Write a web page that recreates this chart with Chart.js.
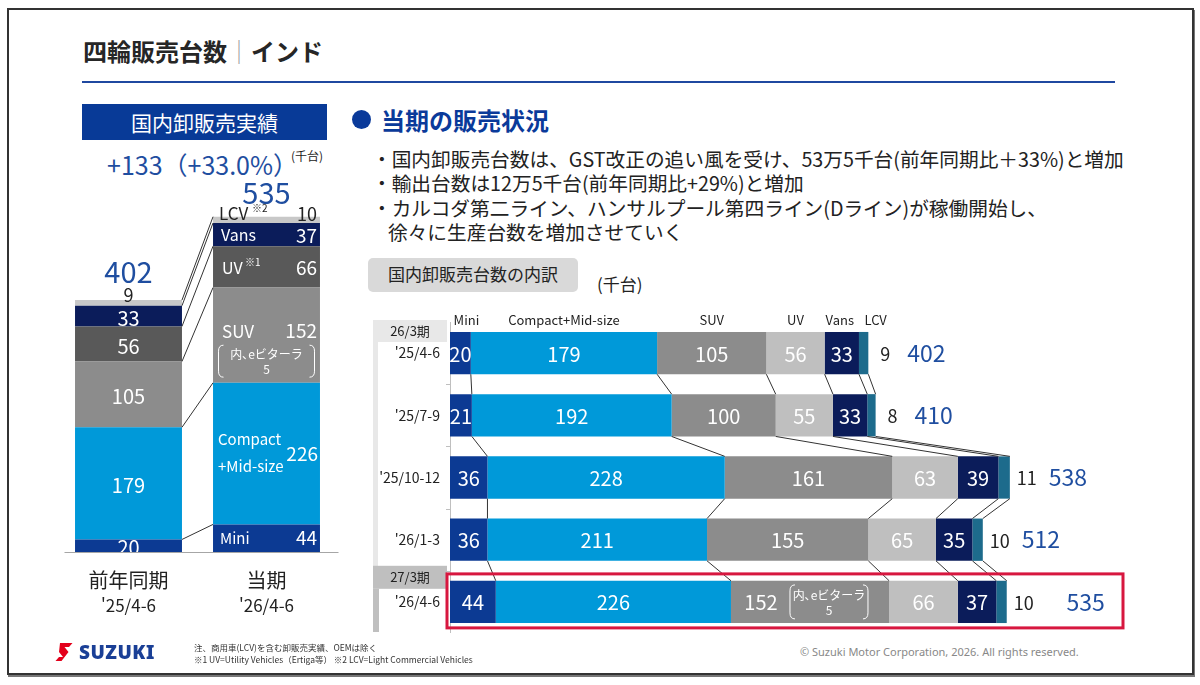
<!DOCTYPE html>
<html lang="ja">
<head>
<meta charset="utf-8">
<script src="https://cdn.jsdelivr.net/npm/chart.js@4.4.1/dist/chart.umd.min.js"></script>
<style>
  body { margin: 0; width: 1200px; height: 685px; position: relative; overflow: hidden; background: #fff;
         font-family: 'Noto Sans CJK JP', 'Noto Sans', sans-serif; color: #222; }
  .abs { position: absolute; white-space: nowrap; }
  #frame { left: 7px; top: 8px; width: 1183px; height: 663px; border: 2px solid #333; box-shadow: 1px 2px 0 #777; }
  #title { left: 83px; top: 34px; font-size: 24px; font-weight: 700; line-height: 34px; color: #262626; }
  #title span { font-weight: 300; color: #999; }
  #rule { left: 82px; top: 81px; width: 1033px; height: 2px; background: #1f48a0; }
  #leftHead { left: 82px; top: 104px; width: 245px; height: 36px; background: #083a97; color: #fff;
              font-size: 21px; line-height: 36px; text-align: center; }
  #diff { left: 107px; top: 148px; font-size: 25px; line-height: 33px; color: #1f4ea0; }
  #diffUnit { left: 291px; top: 148px; font-size: 12px; line-height: 16px; color: #222; }
  #dot { left: 352px; top: 110px; width: 19px; height: 19px; border-radius: 50%; background: #0a3a9a; }
  #subTitle { left: 381px; top: 103px; font-size: 24px; font-weight: 700; line-height: 34px; color: #0a3a9a; }
  #bullets { left: 372px; top: 147px; font-size: 19.7px; line-height: 24.4px; color: #222; }
  #pill { left: 368px; top: 258px; width: 210px; height: 34px; background: #d9d9d9; border-radius: 5px;
          font-size: 17px; line-height: 32px; text-align: center; }
  #pillUnit { left: 597px; top: 271px; font-size: 17px; line-height: 26px; }
  #logo { left: 55px; top: 643px; }
  #brand { left: 79px; top: 638px; font-family: 'Noto Sans', sans-serif; font-size: 19px; font-weight: 900;
           line-height: 28px; color: #1a3f96; letter-spacing: 0.5px; }
  #notes { left: 194px; top: 641px; font-size: 8.5px; line-height: 12px; color: #333; }
  #copy { left: 800px; top: 644px; font-family: 'Noto Sans', sans-serif; font-size: 11px; line-height: 16px; color: #888; }
  #leftBox { left: 0; top: 0; width: 360px; height: 685px; }
  #rightBox { left: 360px; top: 300px; width: 800px; height: 340px; }
</style>
</head>
<body>
<div class="abs" id="frame"></div>
<div class="abs" id="title">四輪販売台数<span>｜</span>インド</div>
<div class="abs" id="rule"></div>
<div class="abs" id="leftHead">国内卸販売実績</div>
<div class="abs" id="diff">+133（+33.0%）</div>
<div class="abs" id="diffUnit">(千台)</div>
<div class="abs" id="dot"></div>
<div class="abs" id="subTitle">当期の販売状況</div>
<div class="abs" id="bullets">・国内卸販売台数は、GST改正の追い風を受け、53万5千台(前年同期比＋33%)と増加<br>・輸出台数は12万5千台(前年同期比+29%)と増加<br>・カルコダ第二ライン、ハンサルプール第四ライン(Dライン)が稼働開始し、<br><span style="padding-left:16px">徐々に生産台数を増加させていく</span></div>
<div class="abs" id="pill">国内卸販売台数の内訳</div>
<div class="abs" id="pillUnit">(千台)</div>

<div class="abs" id="leftBox"><canvas id="leftChart"></canvas></div>
<div class="abs" id="rightBox"><canvas id="rightChart"></canvas></div>

<svg class="abs" id="logo" width="18" height="18" viewBox="0 0 18 18"><path d="M5 0H17.5L14 4H9.5L13.5 9L6.5 18H0.5L4 14H8L4 9Z" fill="#e3001b"/></svg>
<div class="abs" id="brand">SUZUKI</div>
<div class="abs" id="notes">注、商用車(LCV)を含む卸販売実績、OEMは除く<br>※1 UV=Utility Vehicles（Ertiga等） ※2 LCV=Light Commercial Vehicles</div>
<div class="abs" id="copy">© Suzuki Motor Corporation, 2026. All rights reserved.</div>

<script>
// 車種区分
const segNames = ['Mini', 'Compact+Mid-size', 'SUV', 'UV', 'Vans', 'LCV'];

// 前年同期 vs 当期
const compareLabels = [['前年同期', "'25/4-6"], ['当期', "'26/4-6"]];
const compareMini = [20, 44];
const compareCompact = [179, 226];
const compareSuv = [105, 152];
const compareUv = [56, 66];
const compareVans = [33, 37];
const compareLcv = [9, 10];
const compareTotals = [402, 535];

// 四半期の内訳
const quarters = ["'25/4-6", "'25/7-9", "'25/10-12", "'26/1-3", "'26/4-6"];
const qMini = [20, 21, 36, 36, 44];
const qCompact = [179, 192, 228, 211, 226];
const qSuv = [105, 100, 161, 155, 152];
const qUv = [56, 55, 63, 65, 66];
const qVans = [33, 33, 39, 35, 37];
const qLcv = [9, 8, 11, 10, 10];
const qTotals = [402, 410, 538, 512, 535];
const eVitara = 5;

const FONT = "'Noto Sans CJK JP', 'Noto Sans', sans-serif";
const leftColors = ['#0c3a93', '#0099d9', '#8c8c8c', '#595959', '#0b1c5a', '#c8c8c8'];
const rightColors = ['#0c3a93', '#0099d9', '#8c8c8c', '#bfbfbf', '#0b1c5a', '#1d6b8c'];

function buildSets(series, colors) {
    return series.map((s, i) => ({ label: segNames[i], data: s, backgroundColor: colors[i] }));
}

function txt(ctx, s, x, y, size, color, align) {
    ctx.font = size + 'px ' + FONT;
    ctx.fillStyle = color;
    ctx.textAlign = align || 'center';
    ctx.textBaseline = 'middle';
    ctx.fillText(s, x, y);
}

// 括弧つきの注記（内、eビターラ）
function bracketNote(ctx, cx, top, w, h) {
    ctx.strokeStyle = '#fff';
    ctx.lineWidth = 1;
    const l = cx - w / 2, r = cx + w / 2, b = top + h;
    ctx.beginPath();
    ctx.moveTo(l + 5, top); ctx.quadraticCurveTo(l, top, l, top + 6);
    ctx.lineTo(l, b - 6); ctx.quadraticCurveTo(l, b, l + 5, b);
    ctx.moveTo(r - 5, top); ctx.quadraticCurveTo(r, top, r, top + 6);
    ctx.lineTo(r, b - 6); ctx.quadraticCurveTo(r, b, r - 5, b);
    ctx.stroke();
    txt(ctx, '内､eビターラ', cx, top + h * 0.3, 12, '#fff');
    txt(ctx, String(eVitara), cx, top + h * 0.76, 12, '#fff');
}

const leftPlugin = {
    id: 'leftPlugin',
    afterDatasetsDraw(chart) {
        const { ctx, chartArea } = chart;
        const metas = chart.data.datasets.map((d, i) => chart.getDatasetMeta(i));
        ctx.save();

        // 前年→当期の連結線
        ctx.strokeStyle = '#333';
        ctx.lineWidth = 1;
        ctx.beginPath();
        metas.forEach(m => {
            const a = m.data[0], b = m.data[1];
            ctx.moveTo(a.x + a.width / 2, a.y);
            ctx.lineTo(b.x - b.width / 2, b.y);
        });
        ctx.stroke();

        ctx.save();
        ctx.beginPath();
        ctx.rect(chartArea.left - 20, chartArea.top - 60, chartArea.width + 40, chartArea.bottom - chartArea.top + 60);
        ctx.clip();

        // 前年同期
        for (let i = 0; i < 5; i++) {
            const e = metas[i].data[0];
            txt(ctx, String(chart.data.datasets[i].data[0]), e.x, (e.y + e.base) / 2 + 2, 20, '#fff');
        }
        const l0 = metas[5].data[0];
        txt(ctx, String(compareLcv[0]), l0.x, l0.y - 5, 18, '#222');
        txt(ctx, String(compareTotals[0]), l0.x, l0.y - 28, 29, '#1f4ea0');

        // 当期
        const seg = i => metas[i].data[1];
        const L = seg(0).x - seg(0).width / 2 + 7, R = seg(0).x + seg(0).width / 2 - 3;
        let e = seg(0), c = (e.y + e.base) / 2;
        txt(ctx, 'Mini', L, c, 15, '#fff', 'left');
        txt(ctx, String(compareMini[1]), R, c, 19, '#fff', 'right');
        e = seg(1); c = (e.y + e.base) / 2;
        txt(ctx, 'Compact', L - 2, c - 14, 15, '#fff', 'left');
        txt(ctx, '+Mid-size', L - 2, c + 13, 15, '#fff', 'left');
        txt(ctx, String(compareCompact[1]), R + 1, c, 19, '#fff', 'right');
        e = seg(2); c = (e.y + e.base) / 2;
        txt(ctx, 'SUV', L + 2, c - 4, 17, '#fff', 'left');
        txt(ctx, String(compareSuv[1]), R, c - 4, 19, '#fff', 'right');
        bracketNote(ctx, seg(2).x, c + 10, 96, 32);
        e = seg(3); c = (e.y + e.base) / 2;
        txt(ctx, 'UV', L + 2, c + 1, 16, '#fff', 'left');
        txt(ctx, '※1', L + 25, c - 5, 10, '#fff', 'left');
        txt(ctx, String(compareUv[1]), R, c + 1, 19, '#fff', 'right');
        e = seg(4); c = (e.y + e.base) / 2;
        txt(ctx, 'Vans', L + 1, c, 16, '#fff', 'left');
        txt(ctx, String(compareVans[1]), R, c + 1, 19, '#fff', 'right');
        e = seg(5);
        txt(ctx, 'LCV', L - 1, e.y - 3, 17, '#222', 'left');
        txt(ctx, '※2', L + 32, e.y - 9, 10, '#222', 'left');
        txt(ctx, String(compareLcv[1]), R, e.y - 3, 18, '#222', 'right');
        txt(ctx, String(compareTotals[1]), e.x, e.y - 24, 29, '#1f4ea0');
        ctx.restore();

        // 基線と区分名
        ctx.strokeStyle = '#a6a6a6';
        ctx.beginPath();
        ctx.moveTo(chartArea.left + 5, chartArea.bottom + 0.5);
        ctx.lineTo(chartArea.right + 3, chartArea.bottom + 0.5);
        ctx.stroke();
        const xs = chart.scales.x;
        compareLabels.forEach((lab, i) => {
            const px = xs.getPixelForValue(i);
            txt(ctx, lab[0], px, chartArea.bottom + 28, 20, '#222');
            txt(ctx, lab[1], px, chartArea.bottom + 54, 17, '#222');
        });
        ctx.restore();
    }
};

const rightPlugin = {
    id: 'rightPlugin',
    beforeDatasetsDraw(chart) {
        const { ctx, chartArea, scales: { y } } = chart;
        ctx.save();
        const c3 = y.getPixelForValue(3), c4 = y.getPixelForValue(4);
        const bx = chartArea.left - 77, bw = 74;
        // 期の見出し
        ctx.fillStyle = '#e8e8e8';
        ctx.fillRect(bx, chartArea.top - 2, bw, 22);
        ctx.fillRect(bx, chartArea.top + 20, 5, (c3 + c4) / 2 - chartArea.top - 20);
        txt(ctx, '26/3期', bx + bw / 2, chartArea.top + 9, 13, '#222');
        const g2 = (c3 + c4) / 2 - 5;
        ctx.fillStyle = '#bfbfbf';
        ctx.fillRect(bx, g2, bw, 23);
        ctx.fillRect(bx, g2 + 23, 6, chartArea.bottom - g2 - 24);
        txt(ctx, '27/3期', bx + bw / 2, g2 + 11, 13, '#222');
        // 軸線
        ctx.strokeStyle = '#bfbfbf';
        ctx.lineWidth = 1;
        ctx.beginPath();
        ctx.moveTo(chartArea.left + 0.5, chartArea.top);
        ctx.lineTo(chartArea.left + 0.5, chartArea.bottom);
        for (let i = 0; i < quarters.length - 1; i++) {
            const ty = Math.round((y.getPixelForValue(i) + y.getPixelForValue(i + 1)) / 2) + 0.5;
            ctx.moveTo(chartArea.left - 4, ty);
            ctx.lineTo(chartArea.left, ty);
        }
        ctx.stroke();
        quarters.forEach((q, i) => txt(ctx, q, chartArea.left - 10, y.getPixelForValue(i), 14, '#222', 'right'));
        ctx.restore();
    },
    afterDatasetsDraw(chart) {
        const { ctx, chartArea } = chart;
        const metas = chart.data.datasets.map((d, i) => chart.getDatasetMeta(i));
        const last = quarters.length - 1;
        ctx.save();

        // 行間の連結線
        ctx.strokeStyle = '#333';
        ctx.lineWidth = 1;
        ctx.beginPath();
        for (let r = 0; r < last; r++) {
            metas.forEach(m => {
                const a = m.data[r], b = m.data[r + 1];
                ctx.moveTo(a.x, a.y + a.height / 2);
                ctx.lineTo(b.x, b.y - b.height / 2);
            });
        }
        ctx.stroke();

        // 列見出し
        const hdrShift = [6, 0, 0, 0, -2, 12];
        metas.forEach((m, i) => {
            const e = m.data[0];
            txt(ctx, segNames[i], (e.x + e.base) / 2 + hdrShift[i], chartArea.top - 2, 13, '#222');
        });

        // 値ラベル
        for (let r = 0; r <= last; r++) {
            for (let i = 0; i < 5; i++) {
                const e = metas[i].data[r];
                const v = String(chart.data.datasets[i].data[r]);
                if (r === last && i === 2) {
                    txt(ctx, v, e.base + 30, e.y + 1, 20, '#fff');
                    bracketNote(ctx, e.base + 98, e.y - 17, 78, 34);
                } else {
                    txt(ctx, v, (e.x + e.base) / 2, e.y + 1, 20, '#fff');
                }
            }
            const lc = metas[5].data[r];
            txt(ctx, String(qLcv[r]), lc.x + 17, lc.y + 1, 18, '#222');
            txt(ctx, String(qTotals[r]), lc.x + (r === last ? 79 : 58), lc.y, 23, '#1f4ea0');
        }

        // 当期の枠
        const e5 = metas[0].data[last];
        ctx.strokeStyle = '#d7173f';
        ctx.lineWidth = 3;
        ctx.strokeRect(chartArea.left - 3, e5.y - 28, chartArea.right + 7 - (chartArea.left - 3), 54);
        ctx.restore();
    }
};

const baseOpts = {
    responsive: true,
    maintainAspectRatio: false,
    animation: false,
    events: [],
    plugins: { legend: { display: false }, tooltip: { enabled: false } }
};

new Chart(document.getElementById('leftChart'), {
    type: 'bar',
    data: {
        labels: compareLabels,
        datasets: buildSets([compareMini, compareCompact, compareSuv, compareUv, compareVans, compareLcv], leftColors)
            .map(d => Object.assign(d, { barPercentage: 0.775, categoryPercentage: 1 }))
    },
    options: Object.assign({}, baseOpts, {
        layout: { padding: { left: 59.5, right: 24.5, top: 176, bottom: 133 } },
        scales: {
            x: { stacked: true, display: false },
            y: { stacked: true, display: false, min: 0, max: 600 }
        }
    }),
    plugins: [leftPlugin]
});

new Chart(document.getElementById('rightChart'), {
    type: 'bar',
    data: {
        labels: quarters,
        datasets: buildSets([qMini, qCompact, qSuv, qUv, qVans, qLcv], rightColors)
            .map(d => Object.assign(d, { barPercentage: 0.68, categoryPercentage: 1 }))
    },
    options: Object.assign({}, baseOpts, {
        indexAxis: 'y',
        layout: { padding: { left: 90, right: 44, top: 22, bottom: 7 } },
        scales: {
            x: { stacked: true, display: false, min: 0, max: 640 },
            y: { stacked: true, display: false }
        }
    }),
    plugins: [rightPlugin]
});
</script>
</body>
</html>
